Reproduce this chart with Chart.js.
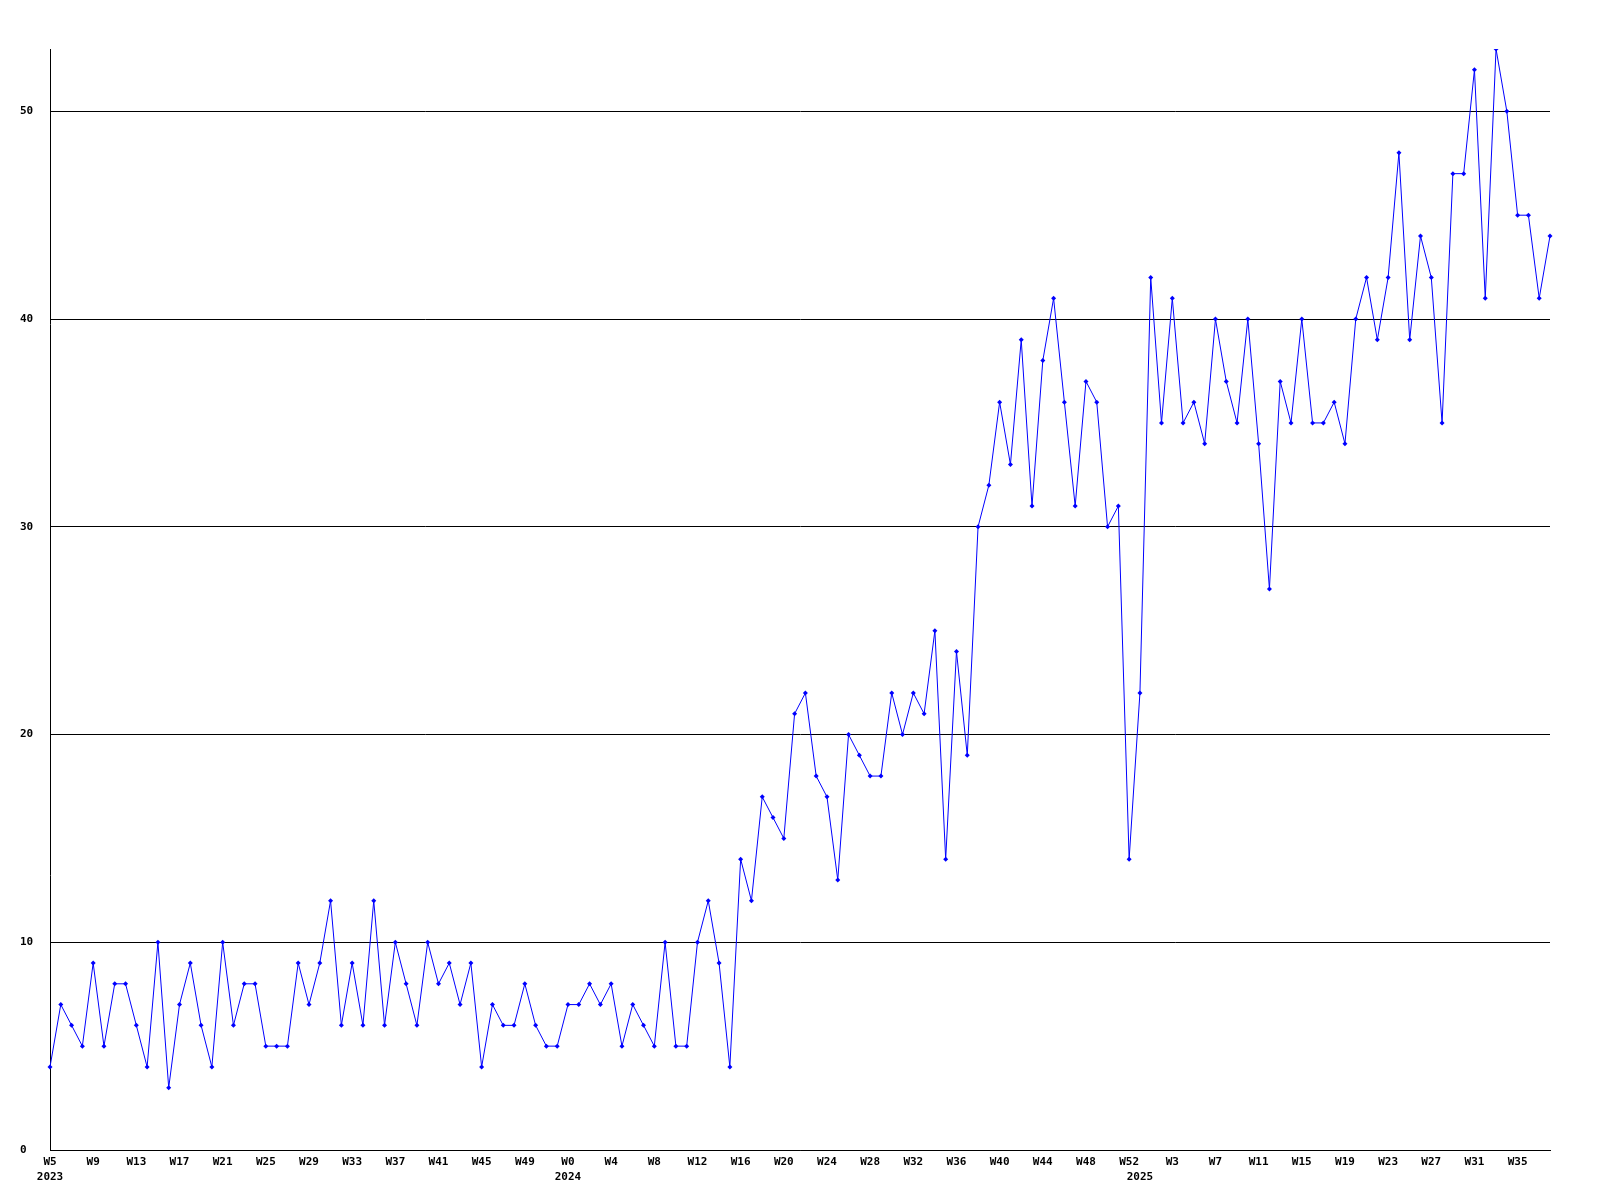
<!DOCTYPE html>
<html>
<head>
<meta charset="utf-8">
<script src="https://cdn.jsdelivr.net/npm/chart.js@4/dist/chart.umd.min.js"></script>
<style>
  html, body { margin: 0; padding: 0; background: #ffffff; }
  #chart { display: block; }
</style>
</head>
<body>
<canvas id="chart" width="1600" height="1200"></canvas>
<script>
// weekly counts, 2023 W5 .. 2025 W38
const years = ['2023', '2024', '2025'];
const weekRanges = [[5, 52], [0, 52], [0, 38]];

const counts = [
    4, 7, 6, 5, 9, 5, 8, 8, 6, 4,
    10, 3, 7, 9, 6, 4, 10, 6, 8, 8,
    5, 5, 5, 9, 7, 9, 12, 6, 9, 6,
    12, 6, 10, 8, 6, 10, 8, 9, 7, 9,
    4, 7, 6, 6, 8, 6, 5, 5, 7, 7,
    8, 7, 8, 5, 7, 6, 5, 10, 5, 5,
    10, 12, 9, 4, 14, 12, 17, 16, 15, 21,
    22, 18, 17, 13, 20, 19, 18, 18, 22, 20,
    22, 21, 25, 14, 24, 19, 30, 32, 36, 33,
    39, 31, 38, 41, 36, 31, 37, 36, 30, 31,
    14, 22, 42, 35, 41, 35, 36, 34, 40, 37,
    35, 40, 34, 27, 37, 35, 40, 35, 35, 36,
    34, 40, 42, 39, 42, 48, 39, 44, 42, 35,
    47, 47, 52, 41, 53, 50, 45, 45, 41, 44
];

const yTicks = [0, 10, 20, 30, 40, 50];

// category labels + where each year begins
const weekLabels = [];
const yearStart = {};
years.forEach((year, i) => {
    yearStart[weekLabels.length] = year;
    for (let w = weekRanges[i][0]; w <= weekRanges[i][1]; w++) weekLabels.push('W' + w);
});

const tickFont = { family: 'DejaVu Sans Mono', size: 11, weight: 'bold', lineHeight: 1.4 };

new Chart(document.getElementById('chart').getContext('2d'), {
    type: 'line',
    data: {
        labels: weekLabels,
        datasets: [{
            data: counts,
            borderColor: '#0000ff',
            backgroundColor: '#0000ff',
            borderWidth: 1,
            tension: 0,
            pointStyle: 'rectRot',
            pointRadius: 2.5,
            pointBorderWidth: 0,
            pointBackgroundColor: '#0000ff'
        }]
    },
    options: {
        responsive: false,
        animation: false,
        layout: { padding: { left: 20, right: 50, top: 49, bottom: 0 } },
        plugins: { legend: { display: false }, tooltip: { enabled: false } },
        scales: {
            x: {
                type: 'category',
                offset: false,
                grid: { display: false, drawTicks: false },
                border: { display: true, color: '#000000', width: 1 },
                afterFit: scale => { scale.height = 50; },
                ticks: {
                    autoSkip: false,
                    maxRotation: 0,
                    minRotation: 0,
                    padding: 4,
                    color: '#000000',
                    font: tickFont,
                    callback: function (value, index) {
                        const wk = index % 4 === 0 ? weekLabels[index] : '';
                        if (yearStart[index]) return [wk, yearStart[index]];
                        return wk;
                    }
                }
            },
            y: {
                min: 0,
                max: 53,
                grid: { color: '#000000', lineWidth: 1, drawTicks: false },
                border: { display: true, color: '#000000', width: 1 },
                afterFit: scale => { scale.width = 30; },
                afterBuildTicks: scale => { scale.ticks = yTicks.map(v => ({ value: v })); },
                ticks: {
                    crossAlign: 'far',
                    padding: 4,
                    color: '#000000',
                    font: tickFont
                }
            }
        }
    }
});
</script>
</body>
</html>
